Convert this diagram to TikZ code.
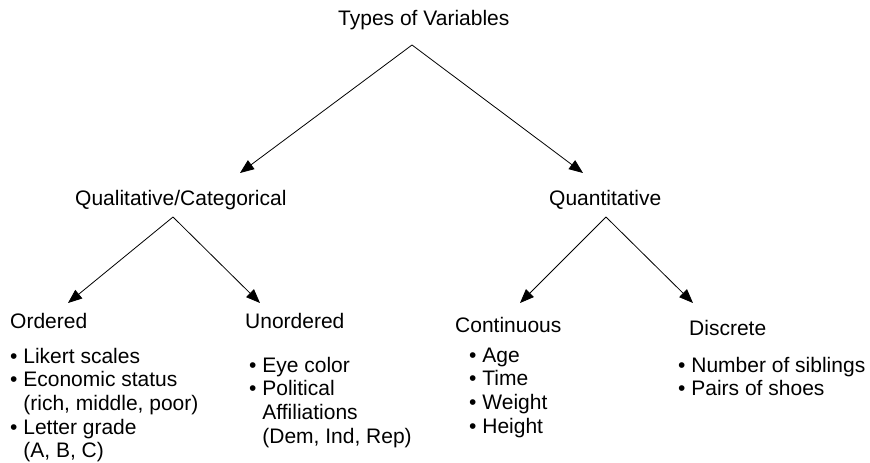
\documentclass[tikz,border=0pt]{standalone}
\usepackage{fontspec}
\setmainfont{Liberation Sans}
\usetikzlibrary{arrows.meta}
\tikzset{
  lbl/.style={font=\fontsize{21}{23.7}\selectfont, inner sep=0pt, anchor=base west},
  items/.style={lbl, align=left},
  arr/.style={-{Triangle[length=14pt,width=11pt]}, line width=0.8pt},
}
\newcommand{\itm}{\textbullet\ }
\newcommand{\cnt}{\hphantom{\textbullet\ }}
\begin{document}
\begin{tikzpicture}[x=1pt,y=-1pt]
      \useasboundingbox (0,0) rectangle (870,463);
      \path
        (338,25) node[lbl] (types){Types of Variables}
        (75,205) node[lbl] (quali){Qualitative/Categorical}
        (549,205) node[lbl] (quant){Quantitative}
        (10,328) node[lbl] (ordered){Ordered}
        (245,328) node[lbl] (unordered){Unordered}
        (455,332) node[lbl] (continuous){Continuous}
        (689,335) node[lbl] (discrete){Discrete};
      % lists sit on the baseline of their last line
      \path
        (10,457.8) node[items] (ordlist){\itm Likert scales\\ \itm Economic status\\ \cnt(rich, middle, poor)\\ \itm Letter grade\\ \cnt(A, B, C)}
        (249,443.1) node[items] (unordlist){\itm Eye color\\ \itm Political\\ \cnt Affiliations\\ \cnt(Dem, Ind, Rep)}
        (469,433.1) node[items] (contlist){\itm Age\\ \itm Time\\ \itm Weight\\ \itm Height}
        (678,395.7) node[items] (disclist){\itm Number of siblings\\ \itm Pairs of shoes};
      % split points and arrow ends
      \coordinate (types-split) at (412,45);
      \coordinate (quali-split) at (173,217);
      \coordinate (quant-split) at (606,217);
      \coordinate (quali-in) at (240,173);
      \coordinate (quant-in) at (583,173);
      \coordinate (ordered-in) at (68,303);
      \coordinate (unordered-in) at (260,303);
      \coordinate (continuous-in) at (520,303);
      \coordinate (discrete-in) at (693,303);
      \begin{scope}[arr]
        \draw (types-split) to (quali-in);
        \draw (types-split) to (quant-in);
        \draw (quali-split) to (ordered-in);
        \draw (quali-split) to (unordered-in);
        \draw (quant-split) to (continuous-in);
        \draw (quant-split) to (discrete-in);
      \end{scope}
    \end{tikzpicture}
\end{document}
